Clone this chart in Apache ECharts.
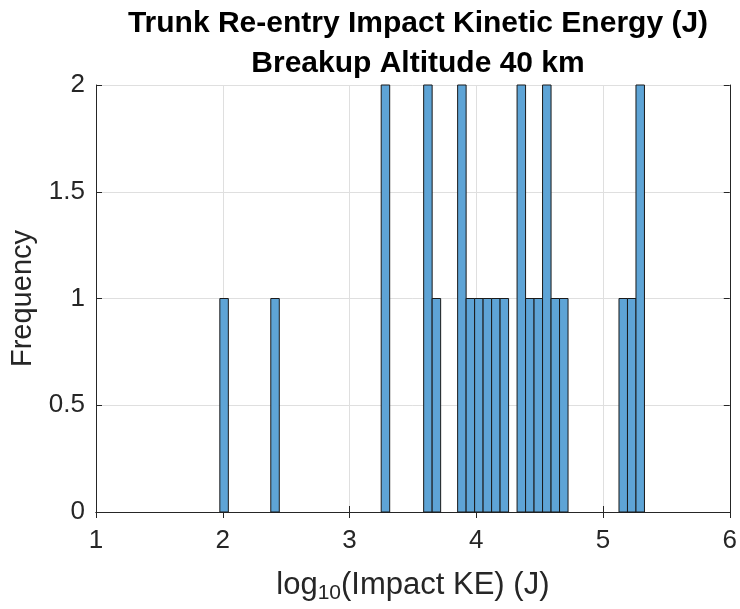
<!DOCTYPE html>
<html>
<head>
<meta charset="utf-8">
<script src="https://cdn.jsdelivr.net/npm/echarts@6/dist/echarts.min.js"></script>
<style>
  html, body { margin: 0; padding: 0; background: #fff; }
  #chart { width: 740px; height: 609px; }
</style>
</head>
<body>
<div id="chart"></div>
<script>
// histogram bins (log10 of impact KE)
var binWidth = 0.067;
var binLo = [1.977, 2.379, 3.250, 3.585, 3.652, 3.853, 3.920, 3.987, 4.054, 4.121,
             4.188, 4.322, 4.389, 4.456, 4.523, 4.590, 4.657, 5.126, 5.193, 5.260];
var counts = [1, 1, 2, 2, 1, 2, 1, 1, 1, 1,
              1, 2, 1, 1, 2, 1, 1, 1, 1, 2];

var xTicks = [1, 6, 1];     // min, max, step
var yTicks = [0, 2, 0.5];

var axisColor = '#262626';
var gridColor = '#dfdfdf';
var font = 'Liberation Sans, Arial, Helvetica, sans-serif';

var data = binLo.map(function (lo, i) {
    return [lo, lo + binWidth, counts[i]];
});

var chart = echarts.init(document.getElementById('chart'));

chart.setOption({
    animation: false,
    title: {
        text: 'Trunk Re-entry Impact Kinetic Energy (J)\nBreakup Altitude 40 km',
        left: 413,
        textAlign: 'center',
        top: -1,
        textStyle: {
            fontFamily: font,
            fontSize: 30,
            fontWeight: 'bold',
            color: '#000',
            lineHeight: 40
        }
    },
    grid: { left: 96, right: 9, top: 85, bottom: 97 },
    xAxis: [{
        type: 'value',
        min: xTicks[0], max: xTicks[1], interval: xTicks[2],
        position: 'bottom',
        axisLine: { lineStyle: { color: axisColor, width: 1 } },
        axisTick: { inside: true, length: 6, lineStyle: { color: axisColor } },
        splitLine: { show: true, lineStyle: { color: gridColor } },
        axisLabel: { fontFamily: font, fontSize: 26, color: axisColor, margin: 16 },
        name: '{n|log}{s|10}{n|(Impact KE) (J)}',
        nameLocation: 'middle',
        nameGap: 54,
        nameTextStyle: {
            rich: {
                n: { fontFamily: font, fontSize: 31, color: axisColor },
                s: { fontFamily: font, fontSize: 21, color: axisColor, padding: [17, 0, 0, 0] }
            }
        }
    }, {
        type: 'value',
        min: xTicks[0], max: xTicks[1], interval: xTicks[2],
        position: 'top',
        axisLine: { lineStyle: { color: axisColor, width: 1 } },
        axisTick: { inside: true, length: 6, lineStyle: { color: axisColor } },
        splitLine: { show: false },
        axisLabel: { show: false }
    }],
    yAxis: [{
        type: 'value',
        min: yTicks[0], max: yTicks[1], interval: yTicks[2],
        position: 'left',
        axisLine: { show: true, lineStyle: { color: axisColor, width: 1 } },
        axisTick: { show: true, inside: true, length: 6, lineStyle: { color: axisColor } },
        splitLine: { show: true, lineStyle: { color: gridColor } },
        axisLabel: { fontFamily: font, fontSize: 26, color: axisColor, margin: 11 },
        name: 'Frequency',
        nameLocation: 'middle',
        nameGap: 53,
        nameTextStyle: { fontFamily: font, fontSize: 29, color: axisColor }
    }, {
        type: 'value',
        min: yTicks[0], max: yTicks[1], interval: yTicks[2],
        position: 'right',
        axisLine: { show: true, lineStyle: { color: axisColor, width: 1 } },
        axisTick: { show: true, inside: true, length: 6, lineStyle: { color: axisColor } },
        splitLine: { show: false },
        axisLabel: { show: false }
    }],
    series: [{
        type: 'custom',
        xAxisIndex: 0,
        yAxisIndex: 0,
        encode: { x: [0, 1], y: 2 },
        data: data,
        renderItem: function (params, api) {
            var p0 = api.coord([api.value(0), 0]);
            var p1 = api.coord([api.value(1), api.value(2)]);
            return {
                type: 'rect',
                shape: { x: p0[0], y: p1[1], width: p1[0] - p0[0], height: p0[1] - p1[1] },
                style: { fill: 'rgb(94,164,214)', stroke: '#1a1a1a', lineWidth: 1 }
            };
        }
    }]
});
</script>
</body>
</html>
